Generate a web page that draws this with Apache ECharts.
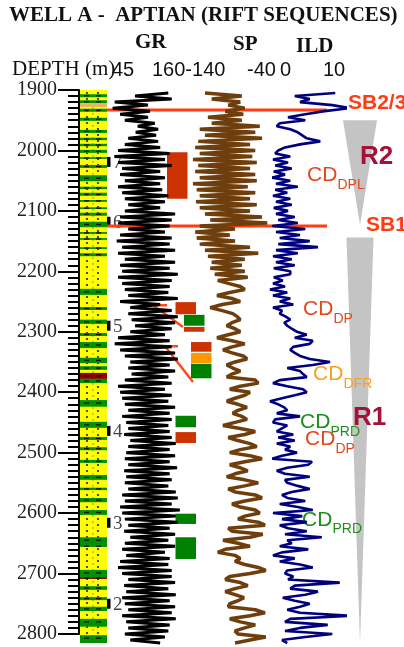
<!DOCTYPE html>
<html><head><meta charset="utf-8">
<script src="https://cdn.jsdelivr.net/npm/echarts@6/dist/echarts.min.js"></script>
<style>html,body{margin:0;padding:0;background:#fff}#c{width:404px;height:647px}</style>
</head><body><div id="c"></div><script>
// ---------------- DATA ----------------
const DEPTH_START = 1905, DEPTH_STEP = 5; // log sampling (m)
const GR = [
128,79,133,49,98,46,101,57,98,64,108,83,113,80,110,69,113,64,116,54,
130,49,123,54,133,60,116,57,123,64,116,54,119,60,128,64,123,69,116,64,
138,57,133,54,130,69,123,57,133,52,130,60,138,54,123,64,138,57,130,60,
142,54,133,60,130,64,128,69,142,57,116,72,133,69,142,74,138,79,133,72,
123,54,130,49,133,57,138,64,142,72,130,69,138,74,128,64,133,54,123,57,
133,60,128,64,138,69,130,60,133,66,128,69,130,63,133,72,139,69,130,66,
138,64,130,69,141,63,130,66,133,64,128,69,139,60,142,64,133,57,145,60,
139,64,142,69,130,63,138,72,128,64,138,60,123,66,130,57,128,54,133,60,
133,69,138,63,128,66,139,60,130,64,138,69,133,60,139,66,130,69,128,64,
123,72,116];
const SP = [
-124,-75,-115,-77,-93,-71,-97,-73,-120,-75,-115,-51,-131,-57,-124,-48,-133,-64,-137,-57,
-131,-61,-140,-55,-133,-64,-137,-57,-131,-55,-140,-67,-135,-57,-131,-64,-136,-55,-131,-64,
-124,-48,-117,-41,-131,-84,-137,-91,-135,-84,-131,-64,-124,-53,-120,-71,-115,-75,-117,-71,
-111,-67,-107,-93,-77,-71,-91,-108,-88,-77,-101,-117,-101,-87,-81,-77,-88,-95,-84,-77,
-93,-108,-88,-71,-88,-100,-88,-73,-68,-84,-95,-87,-77,-88,-95,-57,-53,-77,-91,-64,
-71,-84,-95,-80,-68,-80,-87,-75,-68,-84,-100,-77,-57,-71,-93,-80,-64,-55,-77,-91,
-64,-48,-71,-91,-77,-67,-84,-95,-71,-53,-71,-93,-84,-57,-48,-71,-88,-77,-57,-51,
-71,-80,-53,-44,-93,-88,-47,-64,-100,-80,-64,-97,-107,-84,-77,-84,-71,-53,-43,-64,
-91,-97,-77,-67,-84,-97,-84,-72,-80,-91,-93,-57,-44,-64,-91,-77,-57,-71,-84,-80,
-43,-64,-84];
const ILD = [
8.7,3.3,5.3,4.0,8.3,10.7,7.3,4.7,2.4,4.7,1.3,0.9,2.7,3.7,4.3,4.9,6.7,4.0,2.0,1.1,
0.7,2.7,0.4,2.4,0.7,2.9,0.5,2.0,0.3,2.7,0.8,3.7,0.7,2.3,0.4,2.7,0.8,2.9,0.5,2.4,
0.8,3.3,1.1,3.7,0.3,4.7,0.8,4.0,1.3,5.3,1.1,6.4,0.8,3.7,0.4,2.9,0.8,3.3,0.5,2.7,
2.7,0.5,1.7,0.4,2.0,0.0,2.3,0.4,2.7,1.3,3.1,0.4,1.6,1.3,2.1,2.7,1.9,2.3,2.9,3.6,
4.9,3.3,5.7,5.3,3.1,2.7,3.3,4.0,5.3,8.0,5.7,2.3,4.0,4.4,4.9,1.3,0.4,2.3,4.4,4.9,
3.3,1.6,0.0,1.1,1.9,2.3,0.9,4.0,0.7,0.4,2.3,1.6,0.9,3.1,1.1,3.3,0.9,2.7,2.0,3.6,
1.6,0.3,5.6,5.1,2.3,0.9,2.0,5.3,2.0,2.3,3.7,5.3,2.9,1.6,2.3,4.7,1.3,3.7,5.7,0.4,
4.3,1.6,4.9,1.3,2.4,4.9,2.0,6.9,2.3,2.9,1.3,5.1,1.6,0.4,3.3,1.3,4.0,5.7,2.3,2.0,
3.1,2.4,9.3,3.3,2.7,6.4,4.7,1.7,3.3,5.3,4.0,2.3,4.0,10.7,2.7,2.0,7.7,4.0,2.0,8.3,
4.7,1.6,2.3];

const GR_SCALE = [45, 160];
const SP_SCALE = [-140, -40];
const ILD_SCALE = [0, 10];
const DEPTH_RANGE = [1900, 2800];   // depth scale (tick labels every 100 m)
const LOG_BASE = 2815;              // base of logged interval

// lithology: 0 sand, 1 shale, 2 silt, 3 red shale
const LITH_TOP  = [1900,1907,1917,1922,1931,1946,1966,1979,1989,1999,2011,2024,2041,2060,2070,2082,2094,2103,2118,2135,2145,2160,2170,2229,2259,2280,2302,2317,2343,2357,2368,2378,2413,2449,2474,2491,2512,2537,2558,2575,2595,2640,2694,2706,2721,2739,2755,2775,2802];
const LITH_BASE = [2815,1912,1922,1928,1936,1951,1971,1983,1993,2004,2014,2029,2051,2064,2075,2085,2097,2108,2127,2138,2148,2163,2175,2239,2264,2287,2307,2327,2352,2363,2378,2385,2424,2459,2479,2496,2517,2545,2562,2582,2603,2656,2706,2709,2727,2744,2762,2788,2815];
const LITH_TYPE = [0,1,1,2,1,1,1,1,1,1,1,1,1,1,1,1,1,1,1,1,1,1,1,1,1,1,1,1,1,1,3,1,1,1,1,1,1,1,1,1,1,1,1,3,1,1,1,1,1];

const MARKER_LABELS = ['7','6','5','4','3','2'];
const MARKER_DEPTHS = [2019, 2118, 2290, 2464, 2616, 2750];

const SB_NAMES = ['SB2/3', 'SB1'];
const SB_DEPTHS = [1933, 2125];

const CYCLE_NAMES = ['R2', 'R1'];
const CYCLE_TOP = [1950, 2144];
const CYCLE_BASE = [2123, 2815];
const CYCLE_LABEL_DEPTH = [2011, 2442];

const BOX_TOP    = [2003,2251,2272,2292,2317,2335,2353,2439,2466,2601,2640];
const BOX_BASE   = [2080,2271,2290,2300,2333,2352,2377,2458,2484,2618,2676];
const BOX_FACIES = ['DPL','DP','PRD','DP','DP','DFR','PRD','PRD','DP','PRD','PRD'];
const BOX_LANE   = [0,1,2,2,3,3,3,1,1,1,1];

const ARROW_FROM = [2256, 2324];
const ARROW_TO   = [2292, 2383];

const CD_SUBS   = ['DPL','DP','DFR','PRD','DP','PRD'];
const CD_DEPTHS = [2041.5, 2263, 2371, 2450, 2478, 2611];

// ---------------- STYLE / LAYOUT ----------------
const TOP = 90, PX_PER_M = 0.6044;
const SERIF = '"Liberation Serif", "DejaVu Serif", serif';
const SANS = '"Liberation Sans", Arial, sans-serif';
const LITH_COLORS = ['#ffff00', '#009100', '#f0b060', '#8b0000'];
const BOX_COLORS = {DPL:'#cc3300', DP:'#cc3300', DFR:'#ff9900', PRD:'#008000'};
const CD_COLORS = {DPL:'#e2481c', DP:'#e2481c', DFR:'#f9a11b', PRD:'#1a8f1a'};
const LAYOUT = {
  markerX: 107,
  sbX: [107, 327], sbLabelX: [348, 366], sbLabelDy: [-7, -1],
  wedgeCx: 360, wedgeHalf: [17, 13.5], cycleLabelX: [360, 353],
  boxLaneX: [167, 175.5, 184, 191], boxW: 20.5,
  arrowX: [[167,153,183],[178,165,193]],
  cdX: [307, 303, 313, 300, 305, 302], cdSubDx: 30.5, cdSubDy: 9.5
};
const hAxis = (DEPTH_RANGE[1]-DEPTH_RANGE[0])*PX_PER_M;
const hLog = (LOG_BASE-DEPTH_RANGE[0])*PX_PER_M;

function seriesData(arr){ return arr.map((v,i)=>[v, DEPTH_START + i*DEPTH_STEP]); }
function hiddenY(g){ return {gridIndex:g, type:'value', inverse:true, min:DEPTH_RANGE[0], max:LOG_BASE, show:false}; }
function hiddenX(g, mn, mx){ return {gridIndex:g, type:'value', min:mn, max:mx, show:false}; }

function lithItem(params, api){
  const top = api.value(0), base = api.value(1), t = api.value(2);
  const p1 = api.coord([0, top]), p2 = api.coord([1, base]);
  const x = p1[0], y = p1[1], w = p2[0]-p1[0], h = p2[1]-p1[1];
  const kids = [{type:'rect', shape:{x:x, y:y, width:w, height:h}, style:{fill:LITH_COLORS[t]}}];
  if (t === 0 || t === 2) {
    let k = 0;
    for (let yy = y + 3; yy < y + h - 1; yy += 6, k++) {
      kids.push({type:'circle', shape:{cx:x+7, cy:yy, r:1.1}, style:{fill:'#222'}});
      kids.push({type:'circle', shape:{cx:x+18, cy:yy, r:1.1}, style:{fill:'#222'}});
      kids.push({type:'line', shape:{x1:x+13, y1:yy+2, x2:x+13, y2:yy+4}, style:{stroke:'#777', lineWidth:0.8}});
    }
  } else {
    for (let yy = y + Math.min(h/2, 3); yy < y + h; yy += 6) {
      kids.push({type:'line', shape:{x1:x+4, y1:yy, x2:x+9, y2:yy}, style:{stroke:'#111', lineWidth:1.3}});
      kids.push({type:'line', shape:{x1:x+16, y1:yy, x2:x+21, y2:yy}, style:{stroke:'#111', lineWidth:1.3}});
    }
  }
  return {type:'group', children:kids};
}

const option = {
  animation:false,
  backgroundColor:'#fff',
  grid:[
    {left:79, top:TOP, width:1, height:hAxis},
    {left:80, top:TOP, width:27, height:hLog},
    {left:112, top:TOP, width:78, height:hLog},
    {left:193, top:TOP, width:75, height:hLog},
    {left:270, top:TOP, width:75, height:hLog},
    {left:0, top:TOP, width:404, height:hLog}
  ],
  xAxis:[hiddenX(0,0,1), hiddenX(1,0,1), hiddenX(2,GR_SCALE[0],GR_SCALE[1]),
         hiddenX(3,SP_SCALE[0],SP_SCALE[1]), hiddenX(4,ILD_SCALE[0],ILD_SCALE[1]), hiddenX(5,0,404)],
  yAxis:[
    {gridIndex:0, type:'value', inverse:true, min:DEPTH_RANGE[0], max:DEPTH_RANGE[1], interval:100,
     position:'left',
     axisLine:{show:true, lineStyle:{color:'#000', width:2}},
     axisTick:{show:true, length:21, lineStyle:{color:'#000', width:2}},
     minorTick:{show:true, splitNumber:10, length:11, lineStyle:{color:'#000', width:2}},
     splitLine:{show:false}, minorSplitLine:{show:false},
     axisLabel:{margin:22, fontFamily:SERIF, fontSize:20, color:'#222', formatter:(v)=>String(v)}},
    hiddenY(1), hiddenY(2), hiddenY(3), hiddenY(4), hiddenY(5)
  ],
  graphic:[
    {type:'text', x:9, y:16, style:{text:'WELL A -  APTIAN (RIFT SEQUENCES)', font:'bold 21px '+SERIF, fill:'#111', textVerticalAlign:'middle', verticalAlign:'middle'}},
    {type:'text', x:135, y:43, style:{text:'GR', font:'bold 21px '+SERIF, fill:'#111', textVerticalAlign:'middle', verticalAlign:'middle'}},
    {type:'text', x:233, y:45, style:{text:'SP', font:'bold 21px '+SERIF, fill:'#111', textVerticalAlign:'middle', verticalAlign:'middle'}},
    {type:'text', x:296, y:47, style:{text:'ILD', font:'bold 21px '+SERIF, fill:'#111', textVerticalAlign:'middle', verticalAlign:'middle'}},
    {type:'text', x:12, y:69, style:{text:'DEPTH (m)', font:'21px '+SERIF, fill:'#111', textVerticalAlign:'middle', verticalAlign:'middle'}},
    {type:'text', x:112, y:70, style:{text:String(GR_SCALE[0]), font:'20px '+SANS, fill:'#111', textVerticalAlign:'middle', verticalAlign:'middle'}},
    {type:'text', x:152, y:70, style:{text:String(GR_SCALE[1])+String(SP_SCALE[0]), font:'20px '+SANS, fill:'#111', textVerticalAlign:'middle', verticalAlign:'middle'}},
    {type:'text', x:247, y:70, style:{text:String(SP_SCALE[1]), font:'20px '+SANS, fill:'#111', textVerticalAlign:'middle', verticalAlign:'middle'}},
    {type:'text', x:280, y:70, style:{text:String(ILD_SCALE[0]), font:'20px '+SANS, fill:'#111', textVerticalAlign:'middle', verticalAlign:'middle'}},
    {type:'text', x:323, y:70, style:{text:String(ILD_SCALE[1]), font:'20px '+SANS, fill:'#111', textVerticalAlign:'middle', verticalAlign:'middle'}}
  ],
  series:[
    {type:'custom', xAxisIndex:1, yAxisIndex:1, renderItem:lithItem,
     data: LITH_TOP.map((t,i)=>[t, LITH_BASE[i], LITH_TYPE[i]])},
    {type:'custom', xAxisIndex:5, yAxisIndex:5,
     data: MARKER_DEPTHS.map((d,i)=>[d,i]),
     renderItem:(params, api)=>{
       const p = api.coord([LAYOUT.markerX, api.value(0)]);
       return {type:'group', children:[
         {type:'rect', shape:{x:p[0], y:p[1]-5, width:3.5, height:10}, style:{fill:'#000'}},
         {type:'text', x:p[0]+6, y:p[1]+1, style:{text:MARKER_LABELS[params.dataIndex], font:'19px '+SERIF, fill:'#444', textVerticalAlign:'middle', verticalAlign:'middle'}}
       ]};
     }},
    {type:'line', xAxisIndex:2, yAxisIndex:2, data:seriesData(GR), showSymbol:false, symbol:'none', clip:false,
     lineStyle:{color:'#000', width:3}},
    {type:'line', xAxisIndex:3, yAxisIndex:3, data:seriesData(SP), showSymbol:false, symbol:'none', clip:false,
     lineStyle:{color:'#6e3e0c', width:3.5}},
    {type:'line', xAxisIndex:4, yAxisIndex:4, data:seriesData(ILD), showSymbol:false, symbol:'none', clip:false,
     lineStyle:{color:'#00007f', width:2.6}},
    // facies boxes
    {type:'custom', xAxisIndex:5, yAxisIndex:5,
     data: BOX_TOP.map((t,i)=>[t, BOX_BASE[i], BOX_LANE[i]]),
     renderItem:(params, api)=>{
       const lx = LAYOUT.boxLaneX[api.value(2)];
       const p1 = api.coord([lx, api.value(0)]), p2 = api.coord([lx+LAYOUT.boxW, api.value(1)]);
       return {type:'rect', shape:{x:p1[0], y:p1[1], width:p2[0]-p1[0], height:p2[1]-p1[1]},
               style:{fill:BOX_COLORS[BOX_FACIES[params.dataIndex]]}};
     }},
    // pointer lines
    {type:'custom', xAxisIndex:5, yAxisIndex:5,
     data: ARROW_FROM.map((d,i)=>[d, ARROW_TO[i]]),
     renderItem:(params, api)=>{
       const ax = LAYOUT.arrowX[params.dataIndex];
       const a = api.coord([ax[0], api.value(0)]), b = api.coord([ax[1], api.value(0)]), c = api.coord([ax[2], api.value(1)]);
       return {type:'polyline', shape:{points:[a,b,c]}, style:{stroke:'#ff4a1a', lineWidth:2.5, fill:null}};
     }},
    // sequence boundaries
    {type:'custom', xAxisIndex:5, yAxisIndex:5,
     data: SB_DEPTHS.map((d,i)=>[d,i]),
     renderItem:(params, api)=>{
       const i = params.dataIndex;
       const a = api.coord([LAYOUT.sbX[0], api.value(0)]), b = api.coord([LAYOUT.sbX[1], api.value(0)]);
       const l = api.coord([LAYOUT.sbLabelX[i], api.value(0)]);
       return {type:'group', children:[
         {type:'line', shape:{x1:a[0], y1:a[1], x2:b[0], y2:b[1]}, style:{stroke:'#ff3c14', lineWidth:3}},
         {type:'text', x:l[0], y:l[1]+LAYOUT.sbLabelDy[i], style:{text:SB_NAMES[i], font:'bold 21px '+SANS, fill:'#ff3c14', textVerticalAlign:'middle', verticalAlign:'middle'}}
       ]};
     }},
    // regressive cycle wedges
    {type:'custom', xAxisIndex:5, yAxisIndex:5,
     data: CYCLE_TOP.map((t,i)=>[t, CYCLE_BASE[i], CYCLE_LABEL_DEPTH[i]]),
     renderItem:(params, api)=>{
       const i = params.dataIndex, cx = LAYOUT.wedgeCx, hw = LAYOUT.wedgeHalf[i];
       const a = api.coord([cx-hw, api.value(0)]), b = api.coord([cx+hw, api.value(0)]), c = api.coord([cx, api.value(1)]);
       const l = api.coord([LAYOUT.cycleLabelX[i], api.value(2)]);
       return {type:'group', children:[
         {type:'polygon', shape:{points:[a,b,c]}, style:{fill:'#c4c4c4'}},
         {type:'text', x:l[0], y:l[1], style:{text:CYCLE_NAMES[i], font:'bold 26px '+SANS, fill:'#a3123a', textVerticalAlign:'middle', verticalAlign:'middle'}}
       ]};
     }},
    // CD labels
    {type:'custom', xAxisIndex:5, yAxisIndex:5,
     data: CD_DEPTHS.map((d,i)=>[d,i]),
     renderItem:(params, api)=>{
       const i = params.dataIndex, sub = CD_SUBS[i], col = CD_COLORS[sub];
       const p = api.coord([LAYOUT.cdX[i], api.value(0)]);
       return {type:'group', children:[
         {type:'text', x:p[0], y:p[1], style:{text:'CD', font:'21px '+SANS, fill:col, textVerticalAlign:'middle', verticalAlign:'middle'}},
         {type:'text', x:p[0]+LAYOUT.cdSubDx, y:p[1]+LAYOUT.cdSubDy, style:{text:sub, font:'14px '+SANS, fill:col, textVerticalAlign:'middle', verticalAlign:'middle'}}
       ]};
     }}
  ]
};
const chart = echarts.init(document.getElementById('c'), null, {renderer:'canvas'});
chart.setOption(option);
</script></body></html>
